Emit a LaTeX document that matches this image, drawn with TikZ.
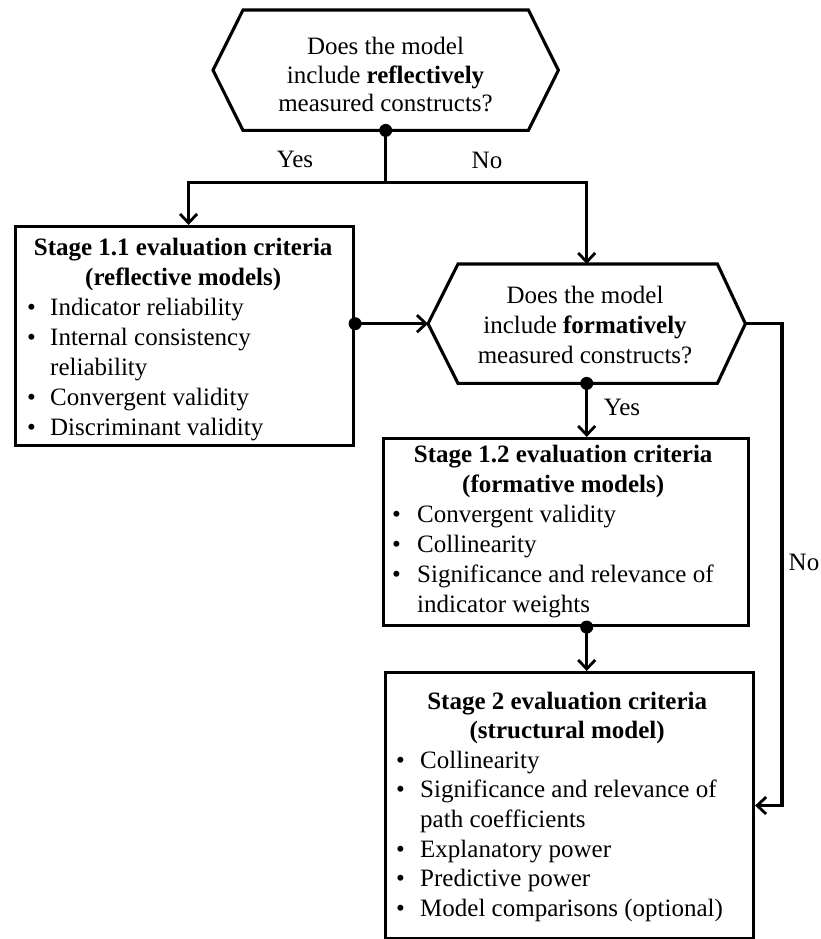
\documentclass[tikz,border=0pt]{standalone}
\usepackage{fontspec}
\setmainfont{Liberation Serif}
\usetikzlibrary{arrows.meta,calc}

% list helpers for the criteria boxes
\newcommand{\bitem}[3]{\par\noindent\hspace*{#1}\makebox[#2][l]{\textbullet}#3}
\newcommand{\bcont}[2]{\par\noindent\hspace*{#1}#2}

\tikzset{
  x=1pt, y=1pt,
  frame/.style={draw, line width=3.1pt, rectangle, inner sep=0pt, anchor=north west},
  hexframe/.style={rectangle, inner sep=0pt, anchor=north west},
  hexline/.style={line width=3.1pt, line join=miter},
  link/.style={line width=3.1pt, -{Straight Barb[length=9pt,width=17pt,line width=2.8pt]}},
  plain/.style={line width=3.1pt},
  txt/.style={inner sep=0pt, anchor=base west, font=\fontsize{25}{30}\selectfont},
  ctxt/.style={inner sep=0pt, anchor=base, font=\fontsize{25}{30}\selectfont},
  lbl/.style={inner sep=0pt, anchor=base, font=\fontsize{25}{30}\selectfont},
  joint/.style={circle, fill, inner sep=0pt, minimum size=13pt},
}

\begin{document}
\begin{tikzpicture}
\useasboundingbox (0,0) rectangle (821,-939);

% decision: reflective constructs
\node[hexframe, minimum width=345pt, minimum height=120pt] (h1) at (213,-10) {};
\draw[hexline] (h1.west) -- ($(h1.north west)+(30,0)$) -- ($(h1.north east)+(-30,0)$)
  -- (h1.east) -- ($(h1.south east)+(-30,0)$) -- ($(h1.south west)+(30,0)$) -- cycle;
\node[ctxt] (h1t) at (385.5,-55) {\parbox[t]{300pt}{\centering\fontsize{25}{28.5}\selectfont
  Does the model\\include \textbf{reflectively}\\measured constructs?}};

% decision: formative constructs
\node[hexframe, minimum width=317pt, minimum height=119pt] (h2) at (428,-264) {};
\draw[hexline] (h2.west) -- ($(h2.north west)+(30,0)$) -- ($(h2.north east)+(-28,0)$)
  -- (h2.east) -- ($(h2.south east)+(-28,0)$) -- ($(h2.south west)+(30,0)$) -- cycle;
\node[ctxt] (h2t) at (585,-303) {\parbox[t]{300pt}{\centering
  Does the model\\include \textbf{formatively}\\measured constructs?}};

% criteria boxes
\node[frame, minimum width=338pt, minimum height=219pt] (s11) at (14,-225) {};
\node[txt] (s11t) at (24,-255) {\parbox[t]{318pt}{%
  {\centering\bfseries Stage 1.1 evaluation criteria\\(reflective models)\par}
  \bitem{3pt}{23pt}{Indicator reliability}
  \bitem{3pt}{23pt}{Internal consistency}
  \bcont{26pt}{reliability}
  \bitem{3pt}{23pt}{Convergent validity}
  \bitem{3pt}{23pt}{Discriminant validity}}};

\node[frame, minimum width=365pt, minimum height=187pt] (s12) at (382,-437) {};
\node[txt] (s12t) at (390,-462) {\parbox[t]{346pt}{%
  {\centering\bfseries Stage 1.2 evaluation criteria\\(formative models)\par}
  \bitem{2pt}{25pt}{Convergent validity}
  \bitem{2pt}{25pt}{Collinearity}
  \bitem{2pt}{25pt}{Significance and relevance of}
  \bcont{27pt}{indicator weights}}};

\node[frame, minimum width=368pt, minimum height=266pt] (s2) at (384,-671) {};
\node[txt] (s2t) at (392,-709) {\parbox[t]{350pt}{\fontsize{25}{29.6}\selectfont
  {\centering\bfseries Stage 2 evaluation criteria\\(structural model)\par}
  \bitem{4pt}{24pt}{Collinearity}
  \bitem{4pt}{24pt}{Significance and relevance of}
  \bcont{28pt}{path coefficients}
  \bitem{4pt}{24pt}{Explanatory power}
  \bitem{4pt}{24pt}{Predictive power}
  \bitem{4pt}{24pt}{Model comparisons (optional)}}};

% right-hand rail for the second "No" branch
\coordinate (rail) at (782,0);

% connectors
\node[joint] (d1) at (h1.south) {};
\draw[plain] (h1.south) -- ++(0,-52) coordinate (split);
\draw[link] (split) -| ([xshift=4pt]s11.north);
\draw[link] (split) -| (h2.north);

\node[joint] (d2) at (s11.east |- h2.west) {};
\draw[link] (d2.center) -- (h2.west);

\node[joint] (d3) at (h2.south) {};
\draw[link] (h2.south) -- (h2.south |- s12.north);

\node[joint] (d4) at (h2.south |- s12.south) {};
\draw[link] (d4.center) -- (h2.south |- s2.north);

\draw[link] (h2.east) -- (h2.east -| rail) |- (s2.east);

% branch labels
\node[lbl] (yes1) at (295,-167) {Yes};
\node[lbl] (no1) at (487,-168) {No};
\node[lbl] (yes2) at (622,-415) {Yes};
\node[lbl] (no2) at (804,-570) {No};
\end{tikzpicture}
\end{document}
